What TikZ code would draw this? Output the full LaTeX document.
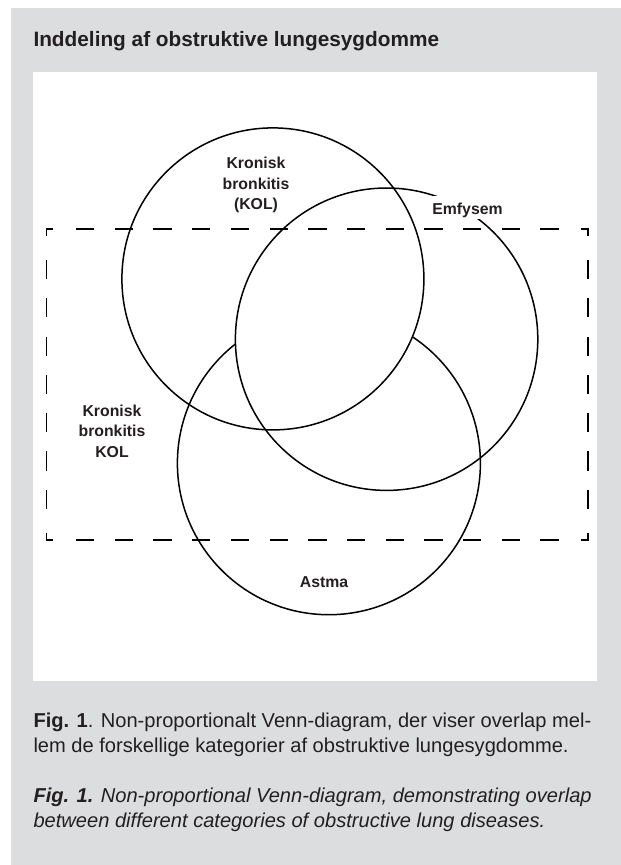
\documentclass[tikz,border=0pt]{standalone}
\usepackage{fontspec}
\setmainfont{Liberation Sans}
\definecolor{panelgray}{RGB}{220,221,223}
\definecolor{txt}{RGB}{35,31,32}
\begin{document}
\begin{tikzpicture}[x=1pt,y=-1pt,
  lbl/.style={font=\fontsize{15.8}{20.2}\selectfont\bfseries, text=txt, align=center, inner sep=0pt},
  captxt/.style={font=\fontsize{20.1}{25}\selectfont, text=txt, inner sep=0pt, anchor=base west},
  venn/.style={draw=black, line width=1.5pt},
  hdash/.style={draw=black, line width=1.5pt, line cap=rect,
    dash pattern=on 5.95pt off 24.2pt on 16.8pt off 21.9pt on 16.8pt off 21.9pt on 16.8pt off 21.9pt on 16.8pt off 21.9pt on 16.8pt off 21.9pt on 16.8pt off 21.9pt on 16.8pt off 21.9pt on 16.8pt off 21.9pt on 16.8pt off 21.9pt on 16.8pt off 21.9pt on 16.8pt off 21.9pt on 16.8pt off 21.9pt on 16.8pt off 24.2pt on 20pt off 100pt},
  vdash/.style={draw=black, line width=1.5pt, line cap=rect,
    dash pattern=on 6.15pt off 25.5pt on 17.7pt off 20.6pt on 17.7pt off 20.6pt on 17.7pt off 20.6pt on 17.7pt off 20.6pt on 17.7pt off 20.6pt on 17.7pt off 20.6pt on 17.7pt off 25.5pt on 20pt off 100pt}]
\useasboundingbox (0,0) rectangle (621,865);
% background panels
\fill[panelgray] (11,8) rectangle (621,865);
\fill[white] (32.7,71.7) rectangle (597,681);
% title
\node[anchor=base west, inner sep=0pt, font=\fontsize{20.8}{25}\selectfont\bfseries, text=txt] (title) at (33.3,46.7) {Inddeling af obstruktive lungesygdomme};
% circle centres
\coordinate (ckb) at (272.9,278.9);
\coordinate (cemf) at (386.6,339.2);
\coordinate (castma) at (328.9,463.2);
% Astma circle (hidden inside the KOL/Emfysem overlap)
\draw[venn] (castma) circle (151.5);
\begin{scope}
  \clip (ckb) circle (151);
  \fill[white] (cemf) circle (151.2);
\end{scope}
% dashed rectangle
\coordinate (r1) at (46.6,229);
\coordinate (r2) at (588,229);
\coordinate (r3) at (588,540.1);
\coordinate (r4) at (46.6,540.1);
\draw[hdash] (r1) -- (r2);
\draw[hdash] (r4) -- (r3);
\draw[vdash] (r1) -- (r4);
\draw[vdash] (r2) -- (r3);
% KOL and Emfysem circles
\draw[venn] (ckb) circle (151);
\draw[venn] (cemf) circle (151.2);
% labels
\node[lbl, anchor=north] (kb) at (256,157.3) {Kronisk\\bronkitis\\(KOL)};
\node[lbl, anchor=base, fill=white, text height=16.5pt, text depth=3.5pt, inner sep=1.5pt] (emf) at (467.5,214) {Emfysem};
\node[lbl, anchor=north] (kbkol) at (112,405) {Kronisk\\bronkitis\\KOL};
\node[lbl, anchor=base] (astma) at (324.1,587) {Astma};
% caption
\node[captxt] (cap1) at (33.3,727) {\textbf{Fig. 1}. Non-proportionalt Venn-diagram, der viser overlap mel-};
\node[captxt] (cap2) at (33.3,752.5) {lem de forskellige kategorier af obstruktive lungesygdomme.};
\node[captxt] (cap3) at (33.3,802.7) {\textbf{\textit{Fig. 1.}} \textit{Non-proportional Venn-diagram, demonstrating overlap}};
\node[captxt] (cap4) at (33.3,827.5) {\textit{between different categories of obstructive lung diseases.}};
\end{tikzpicture}
\end{document}
